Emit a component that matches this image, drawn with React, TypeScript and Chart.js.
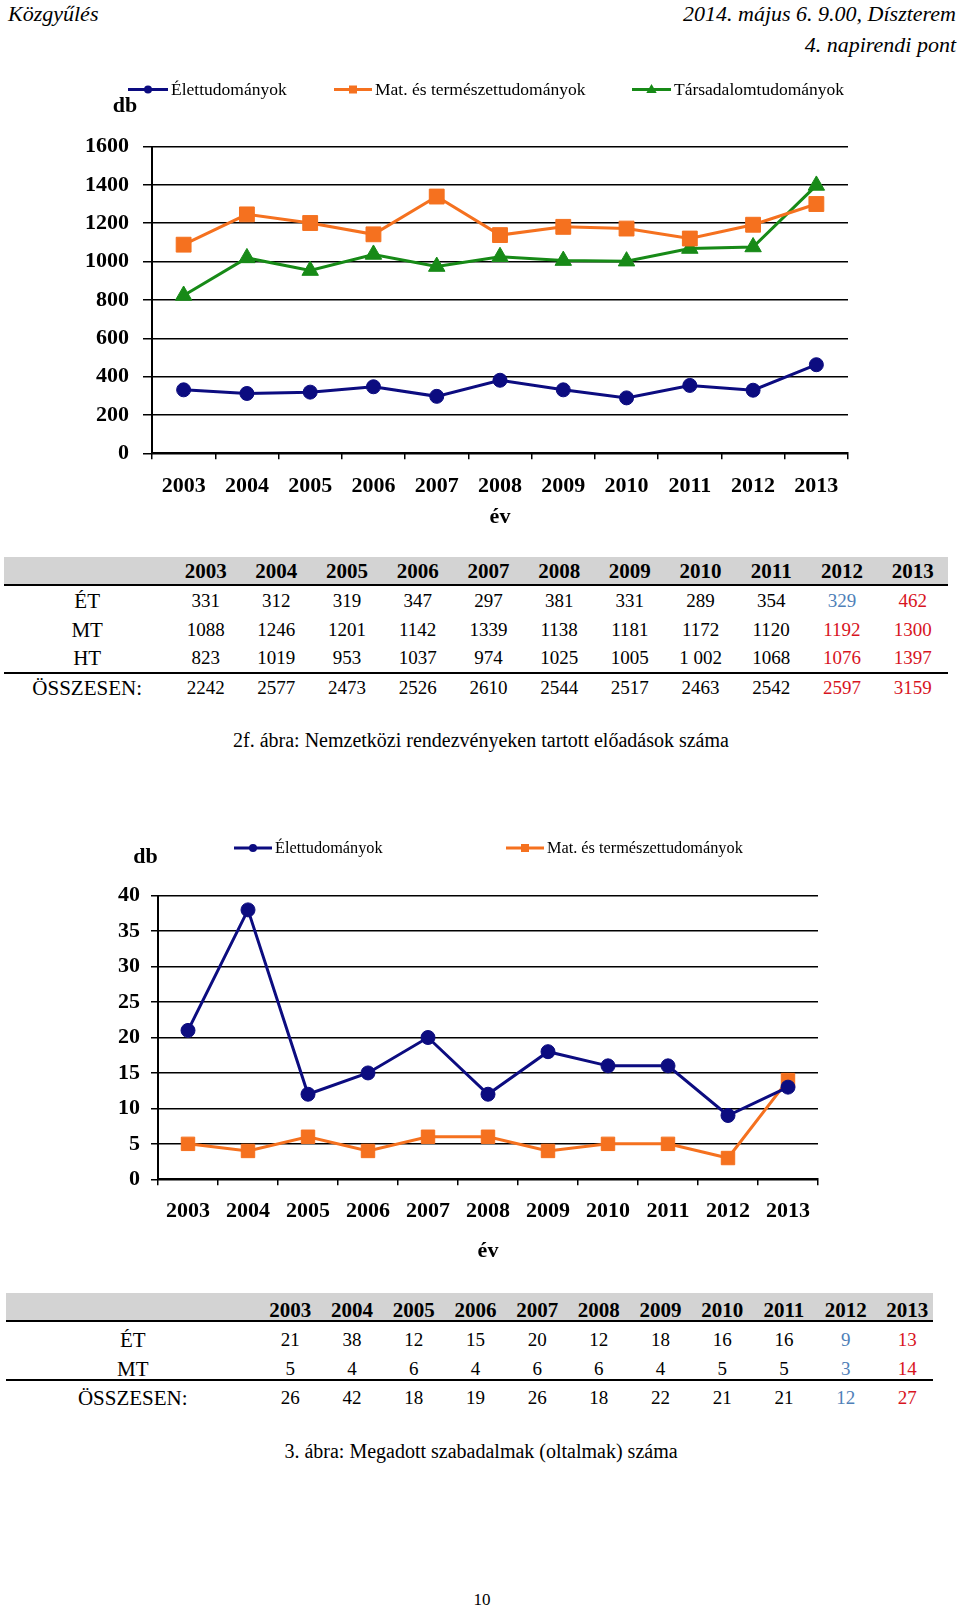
import React, { useEffect, useRef } from 'react';
import { Chart, registerables } from 'chart.js';

Chart.register(...registerables);

// ---------- DATA ----------
const years = ['2003', '2004', '2005', '2006', '2007', '2008', '2009', '2010', '2011', '2012', '2013'];

const lecturesEt = [331, 312, 319, 347, 297, 381, 331, 289, 354, 329, 462];
const lecturesMt = [1088, 1246, 1201, 1142, 1339, 1138, 1181, 1172, 1120, 1192, 1300];
const lecturesHt = [823, 1019, 953, 1037, 974, 1025, 1005, 1002, 1068, 1076, 1397];
const lecturesTotal = [2242, 2577, 2473, 2526, 2610, 2544, 2517, 2463, 2542, 2597, 3159];
const lecturesHtText = ['823', '1019', '953', '1037', '974', '1025', '1005', '1 002', '1068', '1076', '1397'];

const patentsEt = [21, 38, 12, 15, 20, 12, 18, 16, 16, 9, 13];
const patentsMt = [5, 4, 6, 4, 6, 6, 4, 5, 5, 3, 14];
const patentsTotal = [26, 42, 18, 19, 26, 18, 22, 21, 21, 12, 27];

const seriesNames = ['Élettudományok', 'Mat. és természettudományok', 'Társadalomtudományok'];
const rowLabels1 = ['ÉT', 'MT', 'HT', 'ÖSSZESEN:'];
const rowLabels2 = ['ÉT', 'MT', 'ÖSSZESEN:'];

// ---------- STYLE ----------
const FONT = "'Liberation Serif', 'DejaVu Serif', serif";
const NAVY = '#0c0c80';
const ORANGE = '#f5711f';
const GREEN = '#178a17';
const BLUE_TXT = '#4f7fb8';
const RED_TXT = '#d8141e';

function drawMarker(ctx: CanvasRenderingContext2D, style: string, x: number, y: number, color: string, s: number) {
  ctx.fillStyle = color;
  ctx.beginPath();
  if (style === 'circle') {
    ctx.arc(x, y, s * 0.5, 0, Math.PI * 2);
  } else if (style === 'rect') {
    ctx.rect(x - s / 2, y - s / 2, s, s);
  } else {
    ctx.moveTo(x, y - s * 0.6);
    ctx.lineTo(x + s * 0.58, y + s * 0.4);
    ctx.lineTo(x - s * 0.58, y + s * 0.4);
    ctx.closePath();
  }
  ctx.fill();
}

const overlayPlugin = {
  id: 'overlay',
  afterDraw(chart: any, _args: any, opts: any) {
    const ctx: CanvasRenderingContext2D = chart.ctx;
    ctx.save();
    ctx.fillStyle = '#000';
    ctx.textBaseline = 'middle';
    ctx.textAlign = 'center';
    ctx.font = `bold 22px ${FONT}`;
    ctx.fillText(opts.unit, opts.unitX, opts.unitY);
    ctx.font = `${opts.legendFontSize}px ${FONT}`;
    ctx.textAlign = 'left';
    chart.data.datasets.forEach((ds: any, i: number) => {
      const it = opts.legend[i];
      const y = opts.legendY;
      ctx.strokeStyle = ds.borderColor;
      ctx.lineWidth = 3;
      ctx.beginPath();
      ctx.moveTo(it.x0, y);
      ctx.lineTo(it.x1, y);
      ctx.stroke();
      const sizes: any = { circle: 8, rect: 8, triangle: 9 };
      drawMarker(ctx, ds.pointStyle, (it.x0 + it.x1) / 2, y, ds.borderColor, sizes[ds.pointStyle]);
      ctx.fillStyle = '#000';
      ctx.fillText(ds.label, it.x1 + 3, y + 1);
    });
    ctx.restore();
  },
};

type Geo = {
  padTop: number; padRight: number; yWidth: number; xHeight: number;
  yTickLen: number; yTickPad: number; xTickPad: number; titlePad: number;
  yMax: number; yStep: number;
  overlay: any;
};

function LineChart({ datasets, geo, width, height }: { datasets: any[]; geo: Geo; width: number; height: number }) {
  const ref = useRef<HTMLCanvasElement | null>(null);
  useEffect(() => {
    if (!ref.current) return;
    const tickFont = { family: FONT, size: 22, weight: 'bold' as const };
    const chart = new Chart(ref.current, {
      type: 'line',
      data: { labels: years, datasets },
      plugins: [overlayPlugin as any],
      options: {
        responsive: false,
        animation: false,
        devicePixelRatio: 1,
        layout: { padding: { top: geo.padTop, right: geo.padRight, left: 0, bottom: 0 } },
        plugins: {
          legend: { display: false },
          tooltip: { enabled: false },
          overlay: geo.overlay,
        } as any,
        scales: {
          x: {
            type: 'category',
            offset: true,
            grid: { offset: true, drawOnChartArea: false, drawTicks: true, tickLength: 6, color: '#000', lineWidth: 1.5 },
            border: { display: true, color: '#000', width: 2 },
            ticks: { color: '#000', font: tickFont, padding: geo.xTickPad, maxRotation: 0, autoSkip: false },
            title: { display: true, text: 'év', color: '#000', font: tickFont, padding: { top: 0, bottom: geo.titlePad } },
            afterFit: (s: any) => { s.height = geo.xHeight; },
          },
          y: {
            min: 0,
            max: geo.yMax,
            ticks: { stepSize: geo.yStep, color: '#000', font: tickFont, padding: geo.yTickPad, callback: (v: any) => String(v) },
            grid: { color: '#000', lineWidth: 1.5, tickLength: geo.yTickLen, drawTicks: true },
            border: { display: true, color: '#000', width: 2 },
            afterFit: (s: any) => { s.width = geo.yWidth; },
          },
        },
      },
    });
    return () => chart.destroy();
  }, []);
  return <canvas ref={ref} width={width} height={height} style={{ width, height, display: 'block' }} />;
}

function ds(label: string, data: number[], color: string, style: string, radius: number) {
  return {
    label, data,
    borderColor: color, backgroundColor: color,
    borderWidth: 3,
    pointStyle: style, pointRadius: radius, pointBorderWidth: 1,
    pointBackgroundColor: color, pointBorderColor: color,
    tension: 0,
  };
}

type TableGeo = {
  left: number; right: number; labelWidth: number; colWidth: number;
  bandTop: number; bandHeight: number; headerCenter: number;
  rowCenters: number[]; lineTops: number[];
};

function DataTable({ geo, labels, rows, colorOf }: { geo: TableGeo; labels: string[]; rows: (string | number)[][]; colorOf: (r: number, c: number) => string }) {
  const rowH = 28;
  const cells = (vals: (string | number)[], center: number, key: string, bold: boolean, r: number) => (
    <React.Fragment key={key}>
      {vals.map((v, c) => (
        <div key={c} style={{
          position: 'absolute', left: geo.left + geo.labelWidth + c * geo.colWidth, width: geo.colWidth,
          top: center - rowH / 2, height: rowH, lineHeight: rowH + 'px', textAlign: 'center',
          fontSize: bold ? 21 : 19, fontWeight: bold ? 'bold' : 'normal',
          color: r < 0 ? '#000' : colorOf(r, c), whiteSpace: 'nowrap',
        }}>{v}</div>
      ))}
    </React.Fragment>
  );
  return (
    <>
      <div style={{ position: 'absolute', left: geo.left, width: geo.right - geo.left, top: geo.bandTop, height: geo.bandHeight, background: '#d3d3d3' }} />
      {geo.lineTops.map((t, i) => (
        <div key={'l' + i} style={{ position: 'absolute', left: geo.left, width: geo.right - geo.left, top: t, height: 2, background: '#000' }} />
      ))}
      {cells(years, geo.headerCenter, 'h', true, -1)}
      {rows.map((vals, r) => (
        <React.Fragment key={'r' + r}>
          <div style={{
            position: 'absolute', left: geo.left, width: geo.labelWidth, top: geo.rowCenters[r] - rowH / 2,
            height: rowH, lineHeight: rowH + 'px', textAlign: 'center', fontSize: 21,
          }}>{labels[r]}</div>
          {cells(vals, geo.rowCenters[r], 'c' + r, false, r)}
        </React.Fragment>
      ))}
    </>
  );
}

export default function App() {
  const chart1Geo: Geo = {
    padTop: 86.5, padRight: 112, yWidth: 152, xHeight: 86.7,
    yTickLen: 9, yTickPad: 14, xTickPad: 13.5, titlePad: 9.8,
    yMax: 1600, yStep: 200,
    overlay: {
      unit: 'db', unitX: 125, unitY: 46, legendY: 29.5, legendFontSize: 17.5,
      legend: [{ x0: 128, x1: 168 }, { x0: 334, x1: 372 }, { x0: 632, x1: 671 }],
    },
  };
  const chart2Geo: Geo = {
    padTop: 95.7, padRight: 142, yWidth: 158, xHeight: 90.7,
    yTickLen: 7, yTickPad: 11, xTickPad: 12.5, titlePad: 5.8,
    yMax: 40, yStep: 5,
    overlay: {
      unit: 'db', unitX: 145.5, unitY: 57, legendY: 48, legendFontSize: 16.3,
      legend: [{ x0: 234, x1: 272 }, { x0: 506, x1: 544 }],
    },
  };

  const datasets1 = [
    ds(seriesNames[0], lecturesEt, NAVY, 'circle', 7),
    ds(seriesNames[1], lecturesMt, ORANGE, 'rect', 10.5),
    ds(seriesNames[2], lecturesHt, GREEN, 'triangle', 9.5),
  ];
  const datasets2 = [
    ds(seriesNames[0], patentsEt, NAVY, 'circle', 7),
    ds(seriesNames[1], patentsMt, ORANGE, 'rect', 9.5),
  ];

  const table1Geo: TableGeo = {
    left: 4, right: 948, labelWidth: 166.3, colWidth: 70.7,
    bandTop: 557, bandHeight: 27, headerCenter: 571,
    rowCenters: [601, 629.5, 658, 687.5], lineTops: [584, 671.5],
  };
  const table2Geo: TableGeo = {
    left: 6, right: 932.5, labelWidth: 253.5, colWidth: 61.7,
    bandTop: 1293, bandHeight: 27, headerCenter: 1310,
    rowCenters: [1340, 1368.5, 1397.5], lineTops: [1320, 1378.5],
  };

  const color1 = (r: number, c: number) => {
    if (c === 9) return r === 0 ? BLUE_TXT : RED_TXT;
    if (c === 10) return RED_TXT;
    return '#000';
  };
  const color2 = (_r: number, c: number) => (c === 9 ? BLUE_TXT : c === 10 ? RED_TXT : '#000');

  const headerStyle: React.CSSProperties = { position: 'absolute', fontStyle: 'italic', fontSize: 22, lineHeight: '28px', whiteSpace: 'nowrap' };

  return (
    <div style={{ position: 'absolute', left: 0, top: 0, width: 960, height: 1611, fontFamily: FONT, color: '#000', background: '#fff', overflow: 'hidden' }}>
      <div style={{ ...headerStyle, left: 8, top: 0 }}>Közgyűlés</div>
      <div style={{ ...headerStyle, right: 4, top: 0 }}>2014. május 6. 9.00, Díszterem</div>
      <div style={{ ...headerStyle, right: 4, top: 31 }}>4. napirendi pont</div>

      <div style={{ position: 'absolute', left: 0, top: 60 }}>
        <LineChart datasets={datasets1} geo={chart1Geo} width={960} height={480} />
      </div>

      <DataTable geo={table1Geo} labels={rowLabels1}
        rows={[lecturesEt, lecturesMt, lecturesHtText, lecturesTotal]} colorOf={color1} />

      <div style={{ position: 'absolute', left: 0, width: 962, top: 726, lineHeight: '28px', fontSize: 20, textAlign: 'center' }}>
        2f. ábra: Nemzetközi rendezvényeken tartott előadások száma
      </div>

      <div style={{ position: 'absolute', left: 0, top: 800 }}>
        <LineChart datasets={datasets2} geo={chart2Geo} width={960} height={470} />
      </div>

      <DataTable geo={table2Geo} labels={rowLabels2}
        rows={[patentsEt, patentsMt, patentsTotal]} colorOf={color2} />

      <div style={{ position: 'absolute', left: 0, width: 962, top: 1436.5, lineHeight: '28px', fontSize: 20, textAlign: 'center' }}>
        3. ábra: Megadott szabadalmak (oltalmak) száma
      </div>

      <div style={{ position: 'absolute', left: 0, width: 964, top: 1588, lineHeight: '24px', fontSize: 17, textAlign: 'center' }}>10</div>
    </div>
  );
}
